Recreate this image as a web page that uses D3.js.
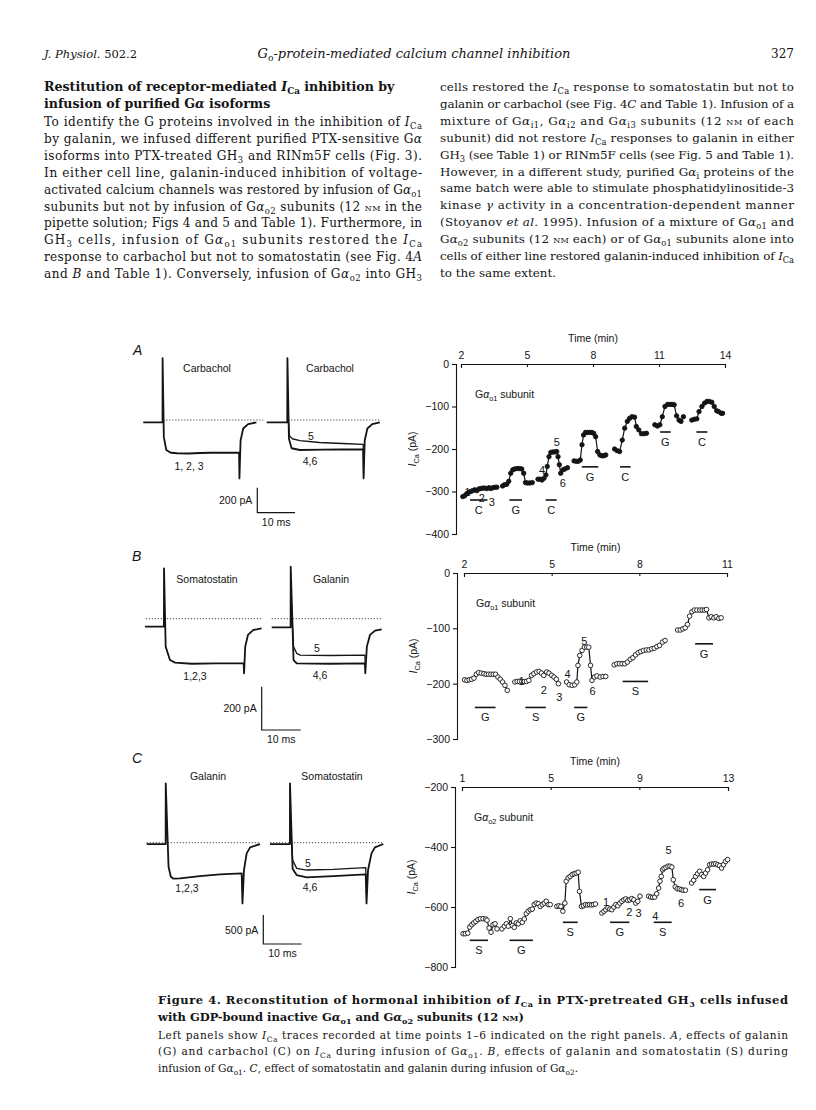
<!DOCTYPE html>
<html>
<head>
<meta charset="utf-8">
<script src="https://cdn.jsdelivr.net/npm/d3@7/dist/d3.min.js"></script>
<style>
  body { margin: 0; background: #fff; }
  svg { display: block; }
</style>
</head>
<body>
<svg id="page" width="816" height="1110"></svg>
<script>
const INK = '#141414';
const SERIF = '"DejaVu Serif", "Liberation Serif", serif';
const SANS = '"Liberation Sans", Arial, sans-serif';
const svg = d3.select('#page');

// ---------- page text ----------
const headerLeft = '*J. Physiol.* 502.2';
const headerMid = '*G*_{o}*-protein-mediated calcium channel inhibition*';
const headerRight = '327';

const leftHeading = [
  'Restitution of receptor-mediated *I*_{Ca} inhibition by',
  'infusion of purified G*α* isoforms'
];
const leftBody = [
  'To identify the G proteins involved in the inhibition of *I*_{Ca}',
  'by galanin, we infused different purified PTX-sensitive G*α*',
  'isoforms into PTX-treated GH_{3} and RINm5F cells (Fig. 3).',
  'In either cell line, galanin-induced inhibition of voltage-',
  'activated calcium channels was restored by infusion of G*α*_{o1}',
  'subunits but not by infusion of G*α*_{o2} subunits (12 [nm] in the',
  'pipette solution; Figs 4 and 5 and Table 1). Furthermore, in',
  'GH_{3} cells, infusion of G*α*_{o1} subunits restored the *I*_{Ca}',
  'response to carbachol but not to somatostatin (see Fig. 4*A*',
  'and *B* and Table 1). Conversely, infusion of G*α*_{o2} into GH_{3}'
];
const rightBody = [
  'cells restored the *I*_{Ca} response to somatostatin but not to',
  'galanin or carbachol (see Fig. 4*C* and Table 1). Infusion of a',
  'mixture of G*α*_{i1}, G*α*_{i2} and G*α*_{i3} subunits (12 [nm] of each',
  'subunit) did not restore *I*_{Ca} responses to galanin in either',
  'GH_{3} (see Table 1) or RINm5F cells (see Fig. 5 and Table 1).',
  'However, in a different study, purified G*α*_{i} proteins of the',
  'same batch were able to stimulate phosphatidylinositide-3',
  'kinase *γ* activity in a concentration-dependent manner',
  '(Stoyanov *et al.* 1995). Infusion of a mixture of G*α*_{o1} and',
  'G*α*_{o2} subunits (12 [nm] each) or of G*α*_{o1} subunits alone into',
  'cells of either line restored galanin-induced inhibition of *I*_{Ca}',
  'to the same extent.'
];
const captionBold = [
  'Figure 4. Reconstitution of hormonal inhibition of *I*_{Ca} in PTX-pretreated GH_{3} cells infused',
  'with GDP-bound inactive G*α*_{o1} and G*α*_{o2} subunits (12 [nm])'
];
const captionBody = [
  'Left panels show *I*_{Ca} traces recorded at time points 1–6 indicated on the right panels. *A*, effects of galanin',
  '(G) and carbachol (C) on *I*_{Ca} during infusion of G*α*_{o1}. *B*, effects of galanin and somatostatin (S) during',
  'infusion of G*α*_{o1}. *C*, effect of somatostatin and galanin during infusion of G*α*_{o2}.'
];

// ---------- time-course data: [min, pA] per recording episode ----------
const aGroups = [
  [[2.08,-312],[2.17,-310],[2.26,-305],[2.35,-302],[2.44,-300],[2.53,-298],[2.63,-296],[2.72,-298],[2.81,-294],[2.90,-293],[2.99,-292],[3.08,-292],[3.18,-293],[3.27,-291],[3.36,-293],[3.45,-291],[3.54,-290],[3.63,-290]],
  [[3.89,-287],[3.98,-284],[4.08,-283],[4.17,-276],[4.26,-257],[4.35,-249],[4.44,-247],[4.55,-246],[4.66,-246],[4.76,-247],[4.85,-257],[4.93,-279],[5.02,-280],[5.13,-280],[5.24,-279]],
  [[5.50,-271],[5.59,-271],[5.68,-273],[5.77,-269],[5.86,-261],[5.92,-241],[6.00,-218],[6.08,-208],[6.17,-207],[6.26,-207],[6.35,-206],[6.41,-218],[6.47,-237],[6.53,-257],[6.63,-249],[6.72,-247],[6.84,-244]],
  [[7.14,-228],[7.24,-229],[7.33,-229],[7.42,-226],[7.50,-190],[7.57,-167],[7.66,-161],[7.76,-161],[7.85,-161],[7.94,-161],[8.03,-163],[8.12,-171],[8.21,-206],[8.31,-214],[8.40,-216],[8.49,-216],[8.58,-214]],
  [[8.98,-200],[9.10,-204],[9.21,-206],[9.33,-179],[9.44,-151],[9.56,-135],[9.66,-128],[9.77,-124],[9.89,-125],[9.97,-147],[10.08,-155],[10.20,-164],[10.32,-164],[10.43,-163]],
  [[10.81,-143],[10.93,-146],[11.04,-143],[11.15,-124],[11.27,-100],[11.39,-95],[11.50,-95],[11.60,-95],[11.69,-96],[11.80,-122],[11.91,-132],[12.00,-135],[12.11,-124]],
  [[12.49,-132],[12.61,-130],[12.72,-129],[12.82,-112],[12.95,-100],[13.07,-92],[13.18,-88],[13.28,-88],[13.40,-90],[13.51,-100],[13.62,-110],[13.71,-112],[13.83,-116],[13.89,-116]]
];
const aBars = [[2.41,3.20,-320,'C'],[4.20,4.77,-320,'G'],[5.85,6.35,-320,'C'],[7.49,8.24,-242,'G'],[9.23,9.71,-242,'C'],[11.05,11.53,-160,'G'],[12.70,13.20,-160,'C']];
const aMarks = [['1',2.30,-300],['2',2.95,-316],['3',3.40,-324],['4',5.69,-249],['5',6.35,-184],['6',6.63,-280]];

const bGroups = [
  [[2.02,-193],[2.10,-194],[2.18,-193],[2.26,-192],[2.34,-190],[2.42,-183],[2.50,-180],[2.59,-181],[2.68,-182],[2.76,-183],[2.84,-183],[2.92,-183],[3.00,-183],[3.08,-183],[3.16,-188],[3.24,-192],[3.32,-197],[3.40,-203],[3.48,-212]],
  [[3.74,-197],[3.82,-196],[3.90,-196],[3.98,-196],[4.06,-196],[4.14,-196],[4.22,-194],[4.31,-185],[4.39,-182],[4.48,-179],[4.57,-178],[4.65,-181],[4.73,-185],[4.83,-179],[4.91,-181],[5.00,-185],[5.08,-188],[5.16,-192],[5.23,-200]],
  [[5.51,-197],[5.60,-202],[5.70,-203],[5.79,-202],[5.86,-197],[5.90,-167],[5.96,-149],[6.04,-140],[6.12,-134],[6.20,-134],[6.27,-134],[6.33,-167],[6.38,-194],[6.46,-188],[6.55,-186],[6.66,-188],[6.76,-187],[6.85,-187]],
  [[7.14,-166],[7.23,-164],[7.32,-164],[7.41,-164],[7.50,-164],[7.59,-161],[7.69,-156],[7.78,-153],[7.87,-148],[7.96,-144],[8.05,-142],[8.14,-140],[8.24,-139],[8.33,-139],[8.42,-137],[8.51,-136],[8.60,-133],[8.69,-131],[8.79,-125],[8.88,-122]],
  [[9.31,-103],[9.40,-103],[9.49,-101],[9.57,-99],[9.65,-93],[9.72,-78],[9.80,-70],[9.88,-67],[9.97,-67],[10.07,-67],[10.15,-67],[10.23,-67],[10.30,-66],[10.38,-81],[10.46,-79],[10.55,-81],[10.63,-79],[10.72,-82],[10.80,-81]]
];
const bBars = [[2.37,3.08,-243,'G'],[4.10,4.80,-243,'S'],[5.77,6.22,-243,'G'],[7.43,8.30,-196,'S'],[9.91,10.52,-128,'G']];
const bMarks = [['1',3.97,-195],['2',4.73,-212],['3',5.26,-224],['4',5.54,-183],['5',6.12,-122],['6',6.40,-214]];

const cGroups = [
  [[1.05,-689],[1.15,-689],[1.26,-687],[1.35,-667],[1.44,-659],[1.53,-653],[1.62,-648],[1.72,-642],[1.83,-639],[1.95,-639],[2.07,-640],[2.13,-644],[2.22,-670],[2.31,-684],[2.40,-659],[2.49,-656],[2.58,-673]],
  [[2.80,-673],[2.91,-664],[3.00,-656],[3.09,-664],[3.18,-639],[3.27,-662],[3.36,-668],[3.45,-653],[3.54,-656],[3.63,-646],[3.72,-651],[3.81,-640],[3.90,-622],[3.99,-614],[4.08,-609],[4.17,-607],[4.26,-592],[4.35,-587],[4.44,-589],[4.53,-598],[4.62,-592],[4.71,-587],[4.80,-581],[4.89,-592],[4.98,-592]],
  [[5.28,-598],[5.37,-596],[5.46,-598],[5.55,-614],[5.64,-587],[5.70,-514],[5.79,-503],[5.88,-498],[5.97,-492],[6.06,-489],[6.15,-487],[6.24,-484],[6.30,-548],[6.39,-598],[6.48,-596],[6.57,-592],[6.66,-593],[6.75,-592],[6.84,-593],[6.93,-592],[7.02,-590]],
  [[7.31,-620],[7.40,-614],[7.49,-609],[7.58,-603],[7.67,-607],[7.76,-609],[7.85,-600],[7.94,-592],[8.03,-596],[8.12,-587],[8.21,-581],[8.30,-576],[8.39,-573],[8.48,-578],[8.57,-576],[8.66,-572],[8.75,-576],[8.84,-587],[8.93,-581],[9.03,-564]],
  [[9.42,-564],[9.51,-567],[9.60,-568],[9.69,-567],[9.78,-556],[9.87,-537],[9.93,-514],[9.99,-498],[10.05,-476],[10.11,-471],[10.20,-468],[10.29,-464],[10.38,-464],[10.47,-467],[10.53,-509],[10.62,-533],[10.71,-539],[10.80,-540],[10.89,-542],[10.98,-544],[11.08,-544]],
  [[11.36,-520],[11.45,-511],[11.54,-498],[11.63,-489],[11.72,-481],[11.81,-492],[11.90,-498],[11.99,-487],[12.08,-476],[12.17,-459],[12.26,-457],[12.35,-457],[12.44,-456],[12.53,-459],[12.62,-462],[12.71,-470],[12.80,-459],[12.89,-448],[12.98,-442]]
];
const cBars = [[1.35,2.17,-711,'S'],[3.15,4.20,-711,'G'],[5.55,6.22,-651,'S'],[7.68,8.55,-651,'G'],[9.65,10.46,-651,'S'],[11.70,12.46,-542,'G']];
const cMarks = [['1',7.50,-583],['2',8.55,-618],['3',8.97,-620],['4',9.72,-631],['5',10.32,-411],['6',10.88,-587]];

// ---------- current traces: [ms, pA] ----------
const aLeft = [[0,-19],[5.1,-19],[5.12,494],[5.45,-137],[6.1,-240],[7.3,-262],[9,-266],[12,-268],[15,-264],[18,-262],[22,-262],[25.4,-261],[25.5,-467],[25.8,-164],[26.5,-68],[27.8,-33],[30,-19]];
const aRight46 = [[0,-19],[5.45,-19],[5.5,494],[5.9,-150],[6.6,-226],[8.8,-240],[15,-237],[20,-236],[25.6,-235],[25.7,-467],[26.0,-164],[26.7,-68],[28.0,-33],[30,-19]];
const aRight5 = [[5.52,120],[6.0,-125],[6.8,-150],[8.8,-165],[14,-180],[20,-188],[25.6,-195],[25.7,-440]];
const bLeft = [[0,-37],[4.85,-37],[4.88,232],[5.3,-129],[6.4,-191],[7.7,-203],[12,-208],[18,-206],[25.3,-206],[25.4,-252],[25.7,-129],[26.4,-75],[27.8,-52],[29.9,-45]];
const bRight46 = [[0,-40],[4.85,-40],[4.88,240],[5.6,-191],[6.4,-206],[15,-208],[23.9,-206],[24.0,-252],[24.4,-129],[25.2,-75],[26.5,-55],[28.2,-49]];
const bRight5 = [[4.95,100],[5.6,-129],[6.4,-160],[7.3,-168],[15,-170],[23.9,-168],[24.0,-230]];
const cLeft = [[0,-23],[4.95,-23],[4.97,1023],[5.7,-414],[6.3,-586],[7.0,-621],[8.7,-615],[13.9,-575],[19.1,-546],[24.8,-529],[25.0,-1046],[25.4,-471],[26.1,-184],[27.0,-80],[29.6,-23]];
const cRight46 = [[0,-23],[5.2,-23],[5.22,1023],[5.9,-448],[6.96,-557],[9.6,-598],[16.5,-575],[25.0,-546],[25.2,-1046],[25.6,-471],[26.5,-184],[27.4,-80],[29.6,-23]];
const cRight5 = [[5.3,400],[5.9,-299],[6.96,-443],[9.6,-471],[16.5,-460],[25.0,-431],[25.2,-900]];

// ---------- helpers ----------
function rich(sel, str) {
  const parts = str.split(/(\*[^*]+\*|_\{[^}]+\}|\[[^\]]+\])/).filter(s => s.length);
  let low = false;
  parts.forEach(p => {
    const t = sel.append('tspan');
    if (p.startsWith('_{')) {
      t.attr('dy', low ? 0 : 3).attr('font-size', '0.7em').text(p.slice(2, -1));
      low = true;
      return;
    }
    if (low) { t.attr('dy', -3); low = false; }
    if (p.startsWith('*')) t.attr('font-style', 'italic').text(p.slice(1, -1));
    else if (p.startsWith('[')) t.attr('font-variant', 'small-caps').text(p.slice(1, -1));
    else t.text(p);
  });
}

function textLine(str, x, y, opts = {}) {
  const t = svg.append('text')
    .attr('x', x).attr('y', y)
    .attr('font-family', opts.family || SERIF)
    .attr('font-size', opts.size || 11.8)
    .attr('font-weight', opts.weight || 'normal')
    .attr('fill', INK)
    .attr('text-anchor', opts.anchor || 'start');
  if (opts.width) t.attr('textLength', opts.width).attr('lengthAdjust', 'spacing');
  rich(t, str);
  return t;
}

// ---------- running head and body text ----------
textLine(headerLeft, 44, 58, { size: 11.5 });
textLine(headerMid, 414, 58, { size: 13, anchor: 'middle' });
textLine(headerRight, 794, 58, { size: 12, anchor: 'end' });

const COL_L = 44, COL_LW = 378, COL_R = 440, COL_RW = 354;
leftHeading.forEach((s, i) => textLine(s, COL_L, 91 + i * 17, { weight: 'bold', size: 12.6 }));
leftBody.forEach((s, i) => textLine(s, COL_L, 126 + i * 16.9, { width: COL_LW, size: 12.1 }));
rightBody.forEach((s, i) => textLine(s, COL_R, 91 + i * 16.9,
  { width: i < rightBody.length - 1 ? COL_RW : null, size: 11.9 }));

// ---------- right-hand time courses ----------
const fmtMinus = d => d < 0 ? '\u2212' + Math.abs(d) : String(d);

function timeChart(c) {
  const x = d3.scaleLinear().domain(c.xDomain).range(c.xRange);
  const y = d3.scaleLinear().domain(c.yDomain).range(c.yRange);
  const g = svg.append('g');
  const top = c.yRange[1];

  const xa = g.append('g').attr('transform', `translate(0,${top})`)
    .call(d3.axisTop(x).tickValues(c.xTicks).tickSizeInner(-3).tickSizeOuter(-4).tickPadding(5).tickFormat(d3.format('d')));
  const ya = g.append('g').attr('transform', `translate(${c.axisX},0)`)
    .call(d3.axisLeft(y).tickValues(c.yTicks).tickSizeInner(4).tickSizeOuter(4).tickPadding(3).tickFormat(fmtMinus));
  [xa, ya].forEach(a => {
    a.attr('font-family', SANS).attr('font-size', 10.5);
    a.selectAll('path, line').attr('stroke', INK).attr('stroke-width', 1.1);
    a.selectAll('text').attr('fill', INK);
  });

  g.append('text').attr('x', (c.xRange[0] + c.xRange[1]) / 2).attr('y', top - 22)
    .attr('text-anchor', 'middle').attr('font-family', SANS).attr('font-size', 10.5).attr('fill', INK)
    .text('Time (min)');
  const yl = g.append('text').attr('x', 0).attr('y', 0)
    .attr('transform', `translate(${c.axisX - 40},${(c.yRange[0] + c.yRange[1]) / 2}) rotate(-90)`)
    .attr('text-anchor', 'middle').attr('font-family', SANS).attr('font-size', 10.5).attr('fill', INK);
  rich(yl, '*I*_{Ca} (pA)');
  const sl = g.append('text').attr('x', c.axisX + 19).attr('y', top + 34)
    .attr('font-family', SANS).attr('font-size', 10.5).attr('fill', INK);
  rich(sl, c.subunit);

  const line = d3.line().x(d => x(d[0])).y(d => y(d[1]));
  c.groups.forEach(gr => {
    g.append('path').attr('d', line(gr)).attr('fill', 'none')
      .attr('stroke', INK).attr('stroke-width', 1.2);
    g.append('g').selectAll('circle').data(gr).join('circle')
      .attr('cx', d => x(d[0])).attr('cy', d => y(d[1]))
      .attr('r', c.open ? 2.3 : 2.2)
      .attr('fill', c.open ? '#fff' : INK)
      .attr('stroke', INK).attr('stroke-width', 0.9);
  });

  const bars = g.append('g').selectAll('g').data(c.bars).join('g');
  bars.append('line')
    .attr('x1', d => x(d[0])).attr('x2', d => x(d[1]))
    .attr('y1', d => y(d[2])).attr('y2', d => y(d[2]))
    .attr('stroke', INK).attr('stroke-width', 1.6);
  bars.append('text')
    .attr('x', d => (x(d[0]) + x(d[1])) / 2).attr('y', d => y(d[2]) + 14)
    .attr('text-anchor', 'middle').attr('font-family', SANS).attr('font-size', 11).attr('fill', INK)
    .text(d => d[3]);

  g.append('g').selectAll('text').data(c.marks).join('text')
    .attr('x', d => x(d[1])).attr('y', d => y(d[2]) + 4)
    .attr('text-anchor', 'middle').attr('font-family', SANS).attr('font-size', 11).attr('fill', INK)
    .text(d => d[0]);
}

timeChart({ xDomain: [2, 14], xRange: [461, 725], yDomain: [-400, 0], yRange: [534, 364], axisX: 456,
  xTicks: [2, 5, 8, 11, 14], yTicks: [0, -100, -200, -300, -400], subunit: 'G*α*_{o1} subunit',
  groups: aGroups, bars: aBars, marks: aMarks, open: false });
timeChart({ xDomain: [2, 11], xRange: [464, 727], yDomain: [-300, 0], yRange: [739, 573], axisX: 457,
  xTicks: [2, 5, 8, 11], yTicks: [0, -100, -200, -300], subunit: 'G*α*_{o1} subunit',
  groups: bGroups, bars: bBars, marks: bMarks, open: true });
timeChart({ xDomain: [1, 13], xRange: [462, 728], yDomain: [-800, -200], yRange: [967, 787], axisX: 455,
  xTicks: [1, 5, 9, 13], yTicks: [-200, -400, -600, -800], subunit: 'G*α*_{o2} subunit',
  groups: cGroups, bars: cBars, marks: cMarks, open: true });

// ---------- left-hand current traces ----------
function tracePanel(p) {
  const g = svg.append('g');
  const mk = ox => ({
    x: d3.scaleLinear().domain([0, 10]).range([ox, ox + 10 * p.msPx]),
    y: d3.scaleLinear().domain([0, -p.barPA]).range([p.zeroY, p.zeroY + p.barPx])
  });
  const sides = [mk(p.leftX), mk(p.rightX)];
  const draw = (s, data, w) => g.append('path')
    .attr('d', d3.line().x(d => s.x(d[0])).y(d => s.y(d[1]))(data))
    .attr('fill', 'none').attr('stroke', INK).attr('stroke-width', w).attr('stroke-linejoin', 'round');

  // zero-current reference (dotted)
  p.dotted.forEach((r, i) => g.append('line')
    .attr('x1', sides[i].x(r[0])).attr('x2', sides[i].x(r[1]))
    .attr('y1', p.zeroY).attr('y2', p.zeroY)
    .attr('stroke', INK).attr('stroke-width', 0.8).attr('stroke-dasharray', '1.2,1.8'));

  draw(sides[0], p.left, 1.8);
  draw(sides[1], p.right46, 1.8);
  draw(sides[1], p.right5, 1.3);

  // scale bar
  const [cx, cy] = p.bar;
  const bw = 10 * p.msPx;
  g.append('path').attr('d', `M${cx},${cy - p.barPx}V${cy}H${cx + bw}`)
    .attr('fill', 'none').attr('stroke', INK).attr('stroke-width', 1.2);
  const t = (x, y, s, anchor, size, style) => g.append('text')
    .attr('x', x).attr('y', y).attr('text-anchor', anchor || 'middle')
    .attr('font-family', SANS).attr('font-size', size || 10.5).attr('fill', INK)
    .attr('font-style', style || 'normal').text(s);
  t(cx - 5, cy - p.barPx / 2 + 4, p.barLabel, 'end');
  t(cx + bw / 2, cy + 13, '10 ms');
  t(p.letter[1], p.letter[2], p.letter[0], 'start', 14, 'italic');
  t(p.titles[0][1], p.titles[0][2], p.titles[0][0]);
  t(p.titles[1][1], p.titles[1][2], p.titles[1][0]);
  p.notes.forEach(n => t(n[1], n[2], n[0]));
}

tracePanel({ leftX: 143.3, rightX: 266.7, zeroY: 420, msPx: 3.77, barPA: 200, barPx: 25,
  left: aLeft, right46: aRight46, right5: aRight5, dotted: [[5.3, 31.8], [5.7, 30]],
  bar: [257.3, 512.7], barLabel: '200 pA', letter: ['A', 133, 355],
  titles: [['Carbachol', 207, 372], ['Carbachol', 330, 372]],
  notes: [['1, 2, 3', 189, 470], ['5', 311, 440], ['4,6', 310, 465]] });
tracePanel({ leftX: 145, rightX: 271.7, zeroY: 618.7, msPx: 3.9, barPA: 200, barPx: 43.3,
  left: bLeft, right46: bRight46, right5: bRight5, dotted: [[0.2, 29.9], [0, 28.2]],
  bar: [261.7, 730], barLabel: '200 pA', letter: ['B', 132, 561],
  titles: [['Somatostatin', 207, 583], ['Galanin', 331, 583]],
  notes: [['1,2,3', 195, 680], ['5', 317, 652], ['4,6', 320, 679]] });
tracePanel({ leftX: 146.7, rightX: 270, zeroY: 842.7, msPx: 3.83, barPA: 500, barPx: 29,
  left: cLeft, right46: cRight46, right5: cRight5, dotted: [[0, 29.6], [0, 29.6]],
  bar: [263.3, 944], barLabel: '500 pA', letter: ['C', 132, 763],
  titles: [['Galanin', 208, 780], ['Somatostatin', 332, 780]],
  notes: [['1,2,3', 187, 892], ['5', 308, 867], ['4,6', 310, 891]] });

// ---------- caption ----------
const CAP_X = 158, CAP_W = 630;
captionBold.forEach((s, i) => textLine(s, CAP_X, 1004 + i * 16.5,
  { weight: 'bold', size: 11.5, width: i === 0 ? CAP_W : null }));
captionBody.forEach((s, i) => textLine(s, CAP_X, 1039 + i * 16.3,
  { size: 10.6, width: i < captionBody.length - 1 ? CAP_W : null }));
</script>
</body>
</html>
